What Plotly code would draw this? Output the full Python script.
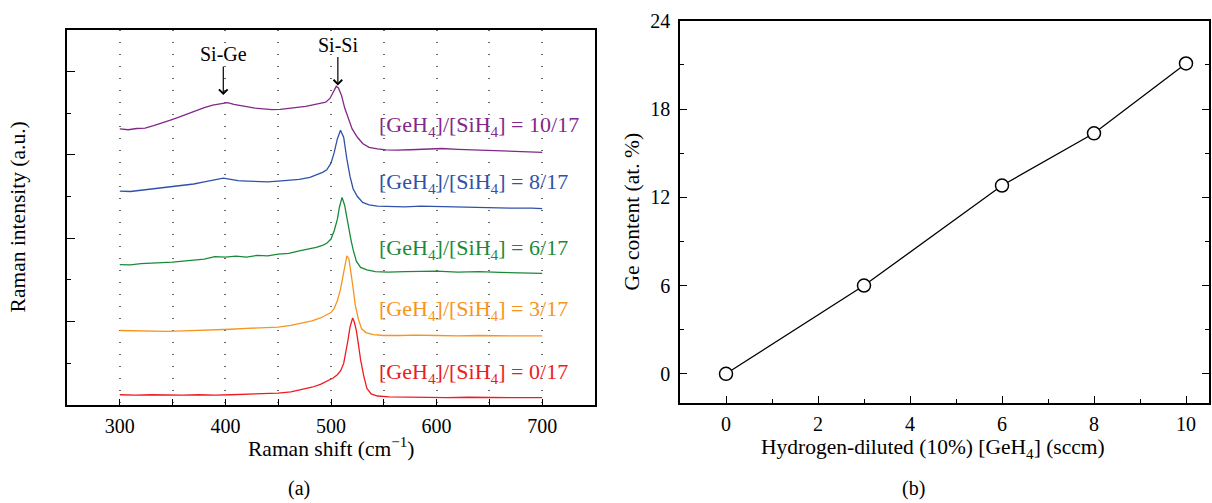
import plotly.graph_objects as go

# ---------------- Panel (a): Raman spectra (offset, a.u.) ----------------
p_x = [300,308,316,324,332,340,348,356,364,372,380,388,396,402,408,414,420,428,436,444,
       452,460,468,476,484,490,495,499,502,505,507,510,513,516,520,525,530,536,544,552,
       562,575,590,605,620,635,650,665,680,690,700]
p_y = [6.62,6.60,6.63,6.64,6.70,6.76,6.83,6.90,6.98,7.06,7.13,7.19,7.23,7.25,7.21,7.18,7.15,7.12,7.10,7.08,
       7.09,7.11,7.14,7.16,7.20,7.23,7.26,7.35,7.50,7.64,7.60,7.42,7.12,6.90,6.62,6.42,6.27,6.18,6.14,6.12,
       6.11,6.12,6.13,6.15,6.13,6.12,6.11,6.10,6.09,6.07,6.06]

b_x = [300,310,320,330,340,350,360,370,380,390,398,405,412,420,430,440,450,460,470,480,
       487,492,496,500,503,506,509,512,515,518,521,525,530,536,544,555,570,585,600,615,
       630,645,660,675,690,700]
b_y = [5.13,5.12,5.15,5.18,5.20,5.23,5.26,5.30,5.35,5.40,5.44,5.41,5.38,5.37,5.36,5.35,5.37,5.39,5.41,5.46,
       5.52,5.58,5.64,5.80,6.05,6.38,6.59,6.42,5.90,5.48,5.18,5.00,4.86,4.80,4.77,4.76,4.75,4.77,4.76,4.75,
       4.74,4.74,4.73,4.72,4.72,4.71]

g_x = [300,310,320,330,340,350,360,370,380,390,400,410,420,430,440,450,460,470,478,486,
       492,496,500,503,506,508,510.5,513,515,517,519,521,524,528,534,542,554,570,585,600,
       620,640,660,680,700]
g_y = [3.37,3.36,3.39,3.40,3.42,3.43,3.45,3.48,3.50,3.56,3.55,3.57,3.55,3.59,3.58,3.62,3.64,3.70,3.74,3.78,
       3.83,3.88,3.98,4.18,4.45,4.75,4.98,4.78,4.50,4.20,3.95,3.72,3.45,3.30,3.24,3.20,3.19,3.20,3.21,3.21,
       3.19,3.20,3.18,3.17,3.16]

o_x = [300,315,330,345,360,375,390,405,420,435,450,462,472,482,490,496,500,503,506,509,
       512,515,517,519,521,523,526,529,533,540,550,565,580,600,620,640,660,680,700]
o_y = [1.79,1.78,1.77,1.77,1.78,1.79,1.81,1.82,1.84,1.85,1.87,1.91,1.96,2.02,2.09,2.16,2.22,2.32,2.50,2.78,
       3.20,3.58,3.50,3.20,2.80,2.40,2.05,1.83,1.74,1.69,1.67,1.67,1.68,1.67,1.66,1.67,1.66,1.66,1.66]

r_x = [300,315,330,345,360,375,390,405,420,435,450,462,472,482,490,497,502,506,509,512,
       514,516,518,520.5,522,524,526,528,531,534,538,544,555,570,590,610,630,650,670,700]
r_y = [0.25,0.24,0.25,0.24,0.24,0.25,0.24,0.25,0.26,0.27,0.29,0.32,0.37,0.43,0.50,0.58,0.65,0.73,0.82,1.00,
       1.25,1.55,1.87,2.09,2.00,1.79,1.45,1.09,0.70,0.40,0.27,0.22,0.20,0.19,0.19,0.18,0.19,0.18,0.18,0.18]

ratio_labels = ["10/17", "8/17", "6/17", "3/17", "0/17"]
label_y = [6.68, 5.32, 3.75, 2.28, 0.77]
colors = ["#82288A", "#2F52A8", "#1A8A3A", "#F7941D", "#ED1C24"]

raman_ticks = [300, 400, 500, 600, 700]
raman_minor = [350, 450, 550, 650]

# ---------------- Panel (b): Ge content ----------------
geh4_flow = [0, 3, 6, 8, 10]
ge_content = [0.0, 6.0, 12.8, 16.35, 21.1]

FONT = "Liberation Serif, Times New Roman, serif"
W, H = 1212, 503

fig = go.Figure()
series = [(p_x, p_y), (b_x, b_y), (g_x, g_y), (o_x, o_y), (r_x, r_y)]
for (xs, ys), c in zip(series, colors):
    fig.add_trace(go.Scatter(x=xs, y=ys, mode="lines", line=dict(color=c, width=1.3),
                             xaxis="x", yaxis="y", showlegend=False, hoverinfo="skip"))

fig.add_trace(go.Scatter(x=geh4_flow, y=ge_content, mode="lines+markers",
                         line=dict(color="black", width=1.3),
                         marker=dict(symbol="circle", size=13, color="white",
                                     line=dict(color="black", width=1.5)),
                         xaxis="x2", yaxis="y2", showlegend=False))

axis_common = dict(showline=True, linecolor="black", linewidth=1.5, ticks="inside",
                   tickcolor="black", tickwidth=1.2, zeroline=False, ticklabeloverflow="allow",
                   tickfont=dict(family=FONT, size=20, color="black"))

grid = dict(showgrid=True, gridcolor="#666666", gridwidth=1.5, griddash="1px,11px")

fig.update_layout(
    width=W, height=H, margin=dict(l=0, r=0, t=0, b=0),
    paper_bgcolor="white", plot_bgcolor="white", showlegend=False,
    font=dict(family=FONT, size=20, color="black"),
    xaxis=dict(domain=[67/W, 595/W], range=[250, 750], anchor="y", mirror=True,
               tickvals=raman_ticks, ticklen=6, ticklabelstandoff=2,
               minor=dict(tickvals=raman_minor, ticks="inside", ticklen=6, tickcolor="black",
                          **grid),
               **grid, **axis_common),
    yaxis=dict(domain=[1-403/H, 1-19/H], range=[0, 9], anchor="x", mirror=True,
               showticklabels=False, tickvals=[2, 4, 6, 8], ticklen=8, showgrid=False,
               minor=dict(tickvals=[1, 3, 5, 7], ticks="inside", ticklen=4, tickcolor="black"),
               **axis_common),
    xaxis2=dict(domain=[680/W, 1209/W], range=[-1, 10.5], anchor="y2", mirror=True,
                tickvals=[0, 2, 4, 6, 8, 10], ticklen=7, showgrid=False, ticklabelstandoff=2,
                minor=dict(tickvals=[1, 3, 5, 7, 9], ticks="inside", ticklen=4, tickcolor="black"),
                **axis_common),
    yaxis2=dict(domain=[1-401/H, 1-10/H], range=[-2, 24], anchor="x2", mirror="ticks",
                tickvals=[0, 6, 12, 18, 24], ticklen=7, showgrid=False, ticklabelstandoff=4,
                minor=dict(tickvals=[3, 9, 15, 21], ticks="inside", ticklen=4, tickcolor="black"),
                **axis_common),
)

ann = []
for lab, ly, c in zip(ratio_labels, label_y, colors):
    ann.append(dict(x=544, y=ly, xref="x", yref="y", xanchor="left", yanchor="middle",
                    text=f"[GeH<sub>4</sub>]/[SiH<sub>4</sub>] = {lab}", showarrow=False,
                    font=dict(family=FONT, size=22, color=c)))

ann.append(dict(x=398, y=7.43, xref="x", yref="y", ax=0, ay=-41, text="Si-Ge",
                showarrow=True, arrowhead=4, arrowsize=1.4, arrowwidth=1.2, arrowcolor="black",
                font=dict(family=FONT, size=20, color="black")))
ann.append(dict(x=506.5, y=7.66, xref="x", yref="y", ax=0, ay=-41, text="Si-Si",
                showarrow=True, arrowhead=4, arrowsize=1.4, arrowwidth=1.2, arrowcolor="black",
                font=dict(family=FONT, size=20, color="black")))

def ptext(x, y, text, angle=0, size=21.5):
    return dict(x=x/W, y=1-y/H, xref="paper", yref="paper", xanchor="center", yanchor="middle",
                text=text, showarrow=False, textangle=angle,
                font=dict(family=FONT, size=size, color="black"))

ann.append(ptext(331, 446, "Raman shift (cm<sup>−1</sup>)"))
ann.append(ptext(18, 211, "Raman intensity (a.u.)", -90))
ann.append(ptext(299, 488, "(a)", size=20))
ann.append(ptext(933, 447, "Hydrogen-diluted (10%) [GeH<sub>4</sub>] (sccm)"))
ann.append(ptext(632, 205, "Ge content (at. %)", -90))
ann.append(ptext(913, 488, "(b)", size=20))

fig.update_layout(annotations=ann)
fig.write_html("out.html", config={"displayModeBar": False},
               post_script="document.body.style.margin='0';document.body.style.overflow='hidden';")
